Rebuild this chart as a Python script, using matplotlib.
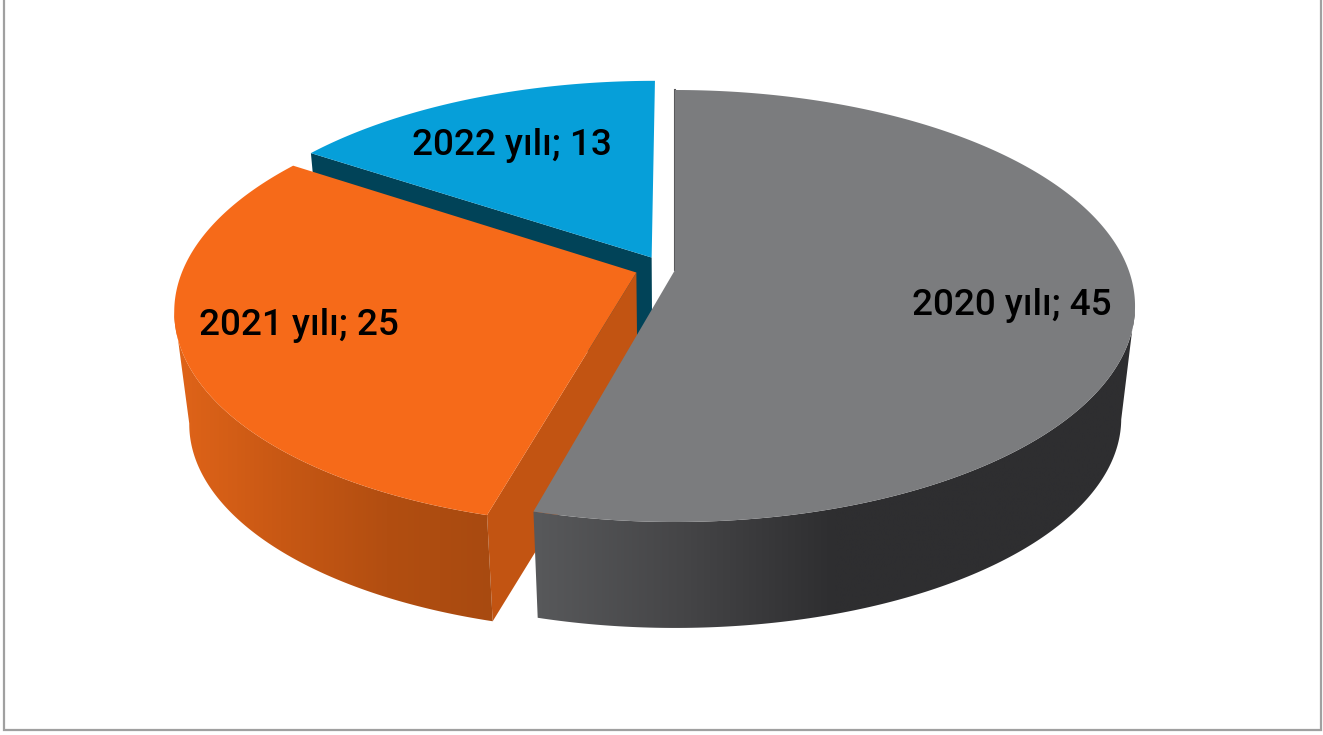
import numpy as np
import matplotlib
matplotlib.use('Agg')
import matplotlib.pyplot as plt
from matplotlib.patches import Polygon, Rectangle
from matplotlib.colors import LinearSegmentedColormap

labels = ['2020 yılı', '2021 yılı', '2022 yılı']
values = [45, 25, 13]
shift_u = [0.0, -0.085, -0.052]
shift_v = [0.0, -0.012, 0.06]
top_colors = ['#7b7c7e', '#f66a19', '#069fd9']
wall_colors = ['#2e2e30', '#c25412', '#014358']

# projection of the unit disc to the picture (pixels)
CX, CY = 675, 270
A, B, K = 453.6, 210, 1 / 6
DEPTH, SHRINK = 113.5, 0.97


def project(u, v, bottom=False):
    w = 1 + K * v
    x, y = A * u / w, -B * v / w
    if bottom:
        return CX + SHRINK * x, CY + DEPTH + SHRINK * y
    return CX + x, CY + y


def slice_points(i, bottom=False):
    t = np.radians(np.linspace(angles[i], angles[i + 1], 300))
    arc = project(np.sin(t) + shift_u[i], np.cos(t) + shift_v[i], bottom)
    apex = project(shift_u[i], shift_v[i], bottom)
    return np.array(apex), np.column_stack(arc)


def gradient_wall(ax, poly, x0, x1, stops, z):
    cmap = LinearSegmentedColormap.from_list('w', stops)
    img = np.linspace(0, 1, 256).reshape(1, -1)
    ys = poly[:, 1]
    im = ax.imshow(img, cmap=cmap, extent=[x0, x1, ys.max() + 1, ys.min() - 1],
                   aspect='auto', zorder=z, interpolation='bilinear')
    patch = Polygon(poly, closed=True, transform=ax.transData, fill=False, lw=0)
    ax.add_patch(patch)
    im.set_clip_path(patch)


fig = plt.figure(figsize=(13.23, 7.35), dpi=100)
ax = fig.add_axes([0, 0, 1, 1])

total = sum(values)
angles = np.concatenate(([0], np.cumsum(values) / total * 360))

# blue (back) slice
ap_t, arc_t = slice_points(2)
ap_b, arc_b = slice_points(2, True)
ax.add_patch(Polygon([ap_t, arc_t[0], arc_b[0], ap_b], color=wall_colors[2], lw=0, zorder=2))
ax.add_patch(Polygon(np.vstack([ap_t, arc_t]), color=top_colors[2], lw=0, zorder=3))

# orange slice, rim only up to the leftmost point
ap_t, arc_t = slice_points(1)
ap_b, arc_b = slice_points(1, True)
ax.add_patch(Polygon([ap_t, arc_t[0], arc_b[0], ap_b], color=wall_colors[1], lw=0, zorder=4))
n = arc_t[:, 0].argmin() + 1
gradient_wall(ax, np.vstack([arc_t[:n], arc_b[:n][::-1]]), arc_t[:, 0].min(), arc_b[0, 0] + 1,
              ['#e06419', '#c85814', '#b24e11', '#a84a10'], 5)
ax.add_patch(Polygon(np.vstack([ap_t, arc_t]), color=top_colors[1], lw=0, zorder=6))

# grey slice, rim only from the rightmost point
ap_t, arc_t = slice_points(0)
ap_b, arc_b = slice_points(0, True)
n = arc_t[:, 0].argmax()
gradient_wall(ax, np.vstack([arc_t[n:], arc_b[n:][::-1]]), arc_t[-1, 0], arc_t[:, 0].max(),
              ['#58595b', '#454547', '#2e2e30', '#2e2e30', '#2e2e30'], 7)
ax.add_patch(Polygon(np.vstack([ap_t, arc_t]), color=top_colors[0], lw=0, zorder=8))
ax.plot([ap_t[0] - 0.5, arc_t[0, 0] - 0.5], [ap_t[1], arc_t[0, 1]], color='#5a5a5c', lw=1.5, zorder=7)

font = ['Roboto', 'DejaVu Sans']
label_pos = [(1012, 305), (299, 325), (512, 145)]
for name, val, (x, y) in zip(labels, values, label_pos):
    ax.text(x, y, f'{name}; {val}', ha='center', va='center', fontsize=26.6,
            family=font, fontweight='medium', color='black', zorder=10)

ax.add_patch(Rectangle((3.5, -5), 1317, 735, fill=False, ec='#a0a0a0', lw=1.6, zorder=1))

ax.set_xlim(0, 1323)
ax.set_ylim(735, 0)
ax.axis('off')
fig.savefig('out.png', dpi=100, facecolor='white')
